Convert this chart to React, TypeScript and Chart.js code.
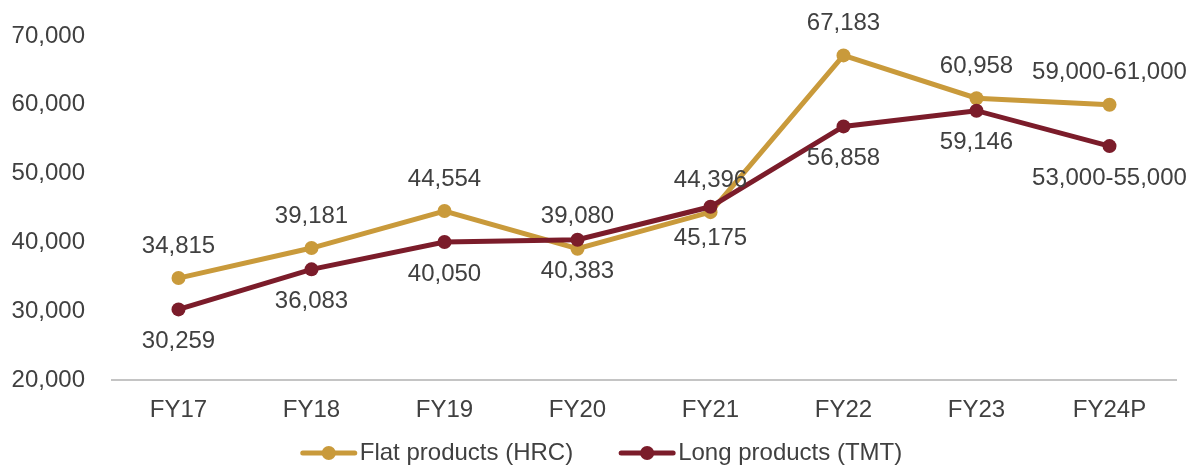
import React, { useEffect, useRef } from 'react';
import { Chart, registerables } from 'chart.js';

Chart.register(...registerables);

const categories = ['FY17', 'FY18', 'FY19', 'FY20', 'FY21', 'FY22', 'FY23', 'FY24P'];
const flatValues = [34815, 39181, 44554, 39080, 44396, 67183, 60958, 60000];
const longValues = [30259, 36083, 40050, 40383, 45175, 56858, 59146, 54000];
const flatLabels = ['34,815', '39,181', '44,554', '39,080', '44,396', '67,183', '60,958', '59,000-61,000'];
const longLabels = ['30,259', '36,083', '40,050', '40,383', '45,175', '56,858', '59,146', '53,000-55,000'];
const seriesNames = ['Flat products (HRC)', 'Long products (TMT)'];
const yMin = 20000;
const yMax = 70000;
const yStep = 10000;

const FLAT = '#C99A3B';
const LONG = '#7B1C2A';
const TEXT = '#404040';
const FONT = "'Liberation Sans', Arial, sans-serif";
const FS = 24;

const labelPlugin = {
  id: 'pointLabels',
  afterDatasetsDraw(chart: any) {
    const ctx = chart.ctx;
    ctx.save();
    ctx.font = `${FS}px ${FONT}`;
    ctx.fillStyle = TEXT;
    ctx.textAlign = 'center';
    ctx.textBaseline = 'middle';
    chart.data.datasets.forEach((ds: any, di: number) => {
      const meta = chart.getDatasetMeta(di);
      meta.data.forEach((pt: any, i: number) => {
        const above = ds.labelPos === 'above';
        const y = above ? pt.y - 32 : pt.y + 32;
        ctx.fillText(ds.pointLabels[i], pt.x, y);
      });
    });
    ctx.restore();
  },
};

const legendPlugin = {
  id: 'customLegend',
  afterDraw(chart: any) {
    const ctx = chart.ctx;
    ctx.save();
    ctx.font = `${FS}px ${FONT}`;
    const lineLen = 56;
    const gapText = 3;
    const gapItem = 46;
    const items = chart.data.datasets.map((ds: any) => ({
      label: ds.label,
      color: ds.borderColor,
      w: ctx.measureText(ds.label).width,
    }));
    const total = items.reduce((s: number, it: any) => s + lineLen + gapText + it.w, 0) + gapItem * (items.length - 1);
    let x = 601.5 - total / 2;
    const y = 453;
    items.forEach((it: any) => {
      ctx.strokeStyle = it.color;
      ctx.lineWidth = 5;
      ctx.lineCap = 'round';
      ctx.beginPath();
      ctx.moveTo(x + 2, y);
      ctx.lineTo(x + lineLen - 2, y);
      ctx.stroke();
      ctx.fillStyle = it.color;
      ctx.beginPath();
      ctx.arc(x + lineLen / 2, y, 7, 0, Math.PI * 2);
      ctx.fill();
      ctx.fillStyle = TEXT;
      ctx.textAlign = 'left';
      ctx.textBaseline = 'middle';
      ctx.fillText(it.label, x + lineLen + gapText, y);
      x += lineLen + gapText + it.w + gapItem;
    });
    ctx.restore();
  },
};

export default function App() {
  const ref = useRef<HTMLCanvasElement | null>(null);
  useEffect(() => {
    document.body.style.margin = '0';
    if (!ref.current) return;
    const chart = new Chart(ref.current, {
      type: 'line',
      data: {
        labels: categories,
        datasets: [
          {
            label: seriesNames[0],
            data: flatValues,
            borderColor: FLAT,
            backgroundColor: FLAT,
            borderWidth: 5,
            pointRadius: 7,
            pointBackgroundColor: FLAT,
            pointBorderWidth: 0,
            tension: 0,
            order: 1,
            pointLabels: flatLabels,
            labelPos: 'above',
          } as any,
          {
            label: seriesNames[1],
            data: longValues,
            borderColor: LONG,
            backgroundColor: LONG,
            borderWidth: 5,
            pointRadius: 7,
            pointBackgroundColor: LONG,
            pointBorderWidth: 0,
            tension: 0,
            order: 0,
            pointLabels: longLabels,
            labelPos: 'below',
          } as any,
        ],
      },
      options: {
        animation: false,
        responsive: false,
        maintainAspectRatio: false,
        layout: { padding: { left: 0, right: 13, top: 36, bottom: 36 } },
        plugins: {
          legend: { display: false },
          tooltip: { enabled: false },
        },
        scales: {
          x: {
            offset: true,
            grid: { display: false, drawTicks: false },
            border: { display: true, color: '#C4C4C4', width: 2 },
            ticks: { color: TEXT, font: { family: FONT, size: FS }, padding: 16 },
            afterFit: (s: any) => { s.height = 50; s.paddingLeft = 0; s.paddingRight = 0; },
          },
          y: {
            min: yMin,
            max: yMax,
            grid: { display: false, drawTicks: false },
            border: { display: false },
            ticks: {
              stepSize: yStep,
              color: TEXT,
              font: { family: FONT, size: FS },
              padding: 27,
              callback: (v: any) => Number(v).toLocaleString('en-US'),
            },
            afterFit: (s: any) => { s.width = 112; s.paddingTop = 0; s.paddingBottom = 0; },
          },
        },
      },
      plugins: [labelPlugin, legendPlugin],
    });
    return () => chart.destroy();
  }, []);
  return (
    <div style={{ width: 1189, height: 466 }}>
      <canvas ref={ref} width={1189} height={466} style={{ display: 'block' }} />
    </div>
  );
}
